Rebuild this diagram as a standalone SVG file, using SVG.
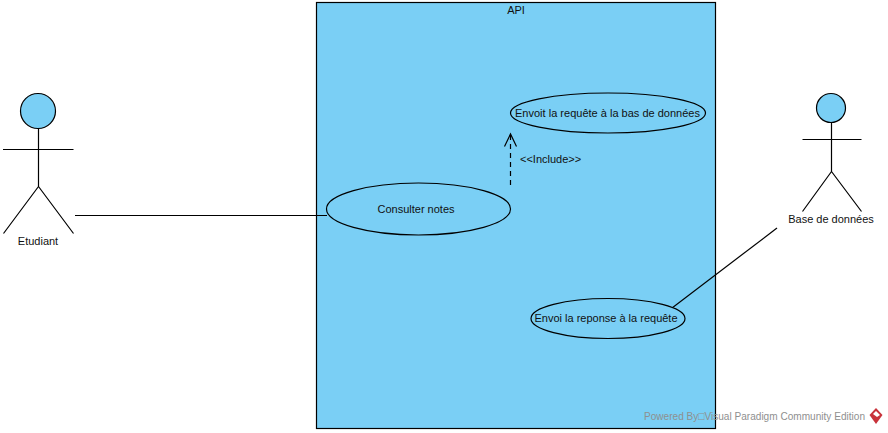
<svg xmlns="http://www.w3.org/2000/svg" width="888" height="433" viewBox="0 0 888 433">
<style>
.s{stroke:#000;stroke-width:1.2;fill:none}
.f{fill:#7ACFF5;stroke:#000;stroke-width:1.2}
text{font-family:"Liberation Sans",Arial,sans-serif;font-size:11px;fill:#111}
.c{text-anchor:middle}
.w{fill:#8f8f8f;font-size:10.500px}
</style>
<rect width="888" height="433" fill="#fff"/>
<g id="system"><rect class="f" x="316.500" y="2.500" width="399" height="426"/><text class="c" x="516" y="14">API</text></g>
<g id="connectors">
<line class="s" x1="75" y1="215.500" x2="327" y2="215.500"/>
<line class="s" x1="672" y1="308" x2="777" y2="228"/>
<line class="s" stroke-dasharray="5 4" x1="510.500" y1="185" x2="510.500" y2="135"/>
<polyline class="s" points="504.500,146.500 510.500,134 516.500,146.500"/>
<text x="520" y="163">&lt;&lt;Include&gt;&gt;</text>
</g>
<g id="etudiant">
<circle class="f" cx="38" cy="111" r="17.500"/>
<path class="s" d="M38.500 128.500V186.500M3 149.500H73.500M38.500 186.500L3.500 233.500M38.500 186.500L73.500 233.500"/>
<text class="c" x="38" y="245">Etudiant</text>
</g>
<g id="base"><circle class="f" cx="831" cy="108" r="14.500"/>
<path class="s" d="M831.500 122.500V171.500M802.500 139.500H861.500M831.500 171.500L802.500 211.500M831.500 171.500L861.500 211.500"/>
<text class="c" x="831" y="223">Base de données</text>
</g>
<g id="consulter"><ellipse class="f" cx="418.500" cy="209" rx="92" ry="26"/><text class="c" x="416" y="213">Consulter notes</text></g>
<g id="envoit"><ellipse class="f" cx="608" cy="113" rx="97.500" ry="20"/><text class="c" x="607.500" y="117" textLength="185">Envoit la requête à la bas de données</text></g>
<g id="envoi"><ellipse class="f" cx="608" cy="318.500" rx="77" ry="20"/><text class="c" x="606" y="322">Envoi la reponse à la requête</text></g>
<g id="watermark"><text class="w" x="644" y="420" textLength="221" lengthAdjust="spacingAndGlyphs">Powered By□Visual Paradigm Community Edition</text>
<polygon points="876,408 882.500,415 876,424 869.500,415" fill="#C8323A"/><polygon points="873,414 876,411 880,415 877,417" fill="#fff"/></g>
</svg>
